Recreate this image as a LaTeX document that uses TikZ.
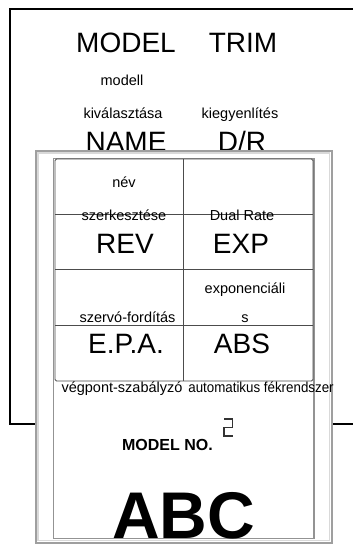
\documentclass[tikz,border=0pt]{standalone}
\usepackage{fontspec}
\setmainfont{Liberation Sans}
\begin{document}
\begin{tikzpicture}[x=1pt,y=-1pt,
  big/.style={font=\fontsize{28}{30}\selectfont, anchor=base, inner sep=0pt},
  small/.style={font=\fontsize{14.5}{16}\selectfont, anchor=base, inner sep=0pt},
  gridline/.style={draw=black!70, line width=0.9pt}]
\useasboundingbox (0,0) rectangle (353,546);
% outer frame
\draw[line width=2pt] (353,9) -- (9.5,9) -- (9.5,423.5) -- (353,423.5);
% top texts
\node[big] (model) at (126,52) {MODEL};
\node[big] (trim) at (243,52) {TRIM};
\node[small] (modell) at (122,85) {modell};
\node[small] (kival) at (123,118) {kiválasztása};
\node[small] (kiegy) at (240,118) {kiegyenlítés};
\node[big] (name) at (126,151) {NAME};
\node[big] (dr) at (242,151) {D/R};
% panel
\fill[white] (34.5,149.5) rectangle (333,544);
\draw[gray!75, line width=2pt] (35.5,150.5) rectangle (332,543);
\draw[gray!30, line width=1.5pt] (37.8,152.8) rectangle (329.7,540.7);
\draw[gray!85, line width=1.6pt] (53.5,158.5) rectangle (314,538.5);
% grid
\draw[gridline, rounded corners=1.5pt] (55,159) rectangle (313,381);
\draw[gridline] (55,214) -- (313,214);
\draw[gridline] (55,269) -- (313,269);
\draw[gridline] (55,325) -- (313,325);
\draw[gridline] (183,159) -- (183,381);
% panel texts
\node[small] (nev) at (124,187) {név};
\node[small] (szerk) at (124,220) {szerkesztése};
\node[small] (dual) at (242,220) {Dual Rate};
\node[big] (rev) at (125,253) {REV};
\node[big] (exp) at (241,253) {EXP};
\node[small] (expon) at (245,293) {exponenciáli};
\node[small] (szervo) at (127.5,322) {szervó-fordítás};
\node[small] (s) at (245,322) {s};
\node[big] (epa) at (126,353) {E.P.A.};
\node[big] (abs) at (242,353) {ABS};
\node[small] (vegp) at (122,392) {végpont-szabályzó};
\node[small] (auto) at (261,392) {\scalebox{0.92}[1]{automatikus fékrendszer}};
\node[font=\fontsize{16}{18}\selectfont\bfseries, anchor=base, inner sep=0pt] (modelno) at (167.5,450) {MODEL NO.};
% seven-segment 2
\draw[black!80, line width=1.3pt] (224,419) -- (232.7,419) -- (232.7,427.5) -- (224,427.5) -- (224,436) -- (232.7,436);
\node[font=\fontsize{66}{70}\selectfont\bfseries, anchor=base, inner sep=0pt] (abc) at (183.5,538) {ABC};
\end{tikzpicture}
\end{document}
